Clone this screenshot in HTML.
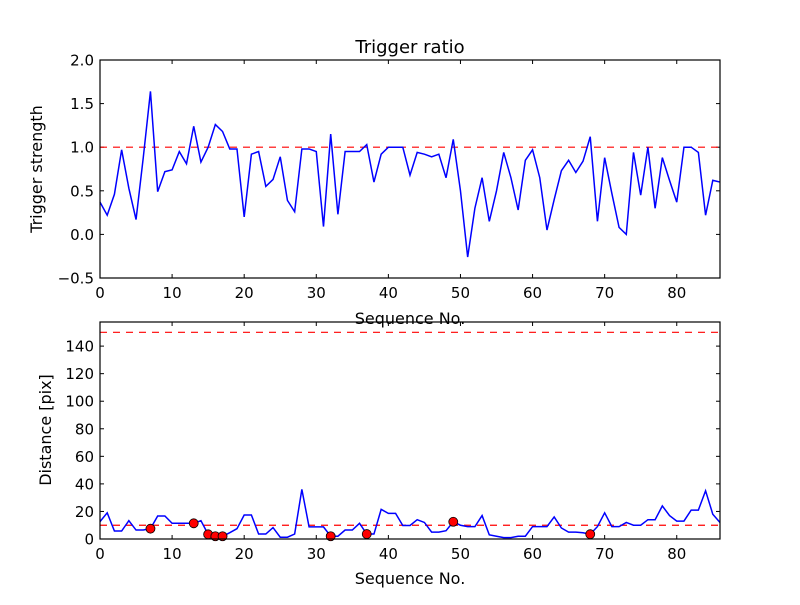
<!DOCTYPE html>
<html><head><meta charset="utf-8"><style>body{margin:0;background:#fff}svg text{font-family:"DejaVu Sans","Liberation Sans",sans-serif}</style></head>
<body>
<svg id="c" width="800" height="600" xmlns="http://www.w3.org/2000/svg"></svg>
<script>
const seq = Array.from({length:87},(_,i)=>i);
const trigger = [0.37,0.22,0.46,0.97,0.53,0.17,0.88,1.64,0.49,0.72,0.74,0.95,0.81,1.24,0.83,1.0,1.26,1.18,0.98,0.98,0.2,0.92,0.95,0.55,0.63,0.89,0.39,0.26,0.98,0.98,0.95,0.09,1.15,0.23,0.95,0.95,0.95,1.03,0.6,0.92,1.0,1.0,1.0,0.68,0.94,0.92,0.89,0.92,0.65,1.09,0.5,-0.26,0.3,0.65,0.15,0.5,0.94,0.65,0.28,0.85,0.97,0.65,0.05,0.4,0.73,0.85,0.71,0.84,1.12,0.15,0.88,0.47,0.08,0.0,0.94,0.45,1.0,0.3,0.88,0.62,0.37,1.0,1.0,0.94,0.22,0.62,0.6];
const distance = [12.6,19,5.8,5.8,13.3,6.5,6.5,7.5,16.7,16.7,11.4,11.4,11.4,11.4,13.3,3.4,2,2,4.6,7.5,17.4,17.4,3.6,3.6,8.3,1.3,1.3,3.6,36,8.8,8.8,8.8,2,2,6.5,6.5,11.4,3.6,3.6,21.5,18.6,18.6,9.8,9.8,14,12,5,5,6,12.5,10,9,9,17,3,2,1,1,2,2,9,9,9,16,8,5,5,4.5,3.5,9,19,9,9,12,10,10,14,14,24,17,13,13,21,21,35,18,12];
const markIdx = [7,13,15,16,17,32,37,49,68];
const xTicks = [0,10,20,30,40,50,60,70,80];
const yTicks1 = [-0.5,0,0.5,1.0,1.5,2.0];
const yTicks2 = [0,20,40,60,80,100,120,140];
const refTop = [1.0];
const refBottom = [10,150];

const svg=document.getElementById('c');const NS='http://www.w3.org/2000/svg';
function el(t,a,p){const e=document.createElementNS(NS,t);for(const k in a)e.setAttribute(k,a[k]);(p||svg).appendChild(e);return e;}
const L=100,R=720,xmax=86;
const X=v=>L+(R-L)*v/xmax;
function panel(top,bot,ymin,ymax,yt,fmt,name){
  const Y=v=>bot-(bot-top)*(v-ymin)/(ymax-ymin);
  const g=el('g',{});
  
  
  xTicks.forEach(t=>{const x=X(t);
    el('line',{x1:x,x2:x,y1:bot,y2:bot-4,stroke:'#000'},g);el('line',{x1:x,x2:x,y1:top,y2:top+4,stroke:'#000'},g);
    const tx=el('text',{x:x,y:bot+20,'text-anchor':'middle','font-size':'15'},g);tx.textContent=t;
    
    });
  yt.forEach(t=>{const y=Y(t);
    el('line',{x1:L,x2:L+4,y1:y,y2:y,stroke:'#000'},g);el('line',{x1:R,x2:R-4,y1:y,y2:y,stroke:'#000'},g);
    const tx=el('text',{x:L-6,y:y+5.5,'text-anchor':'end','font-size':'15'},g);tx.textContent=fmt(t);
    
    });
  return {Y,g};
}
const p1=panel(60,278,-0.5,2.0,yTicks1,t=>t.toFixed(1).replace('-','\u2212'),'trigger');
refTop.forEach(v=>{const l=el('line',{x1:L,x2:R,y1:p1.Y(v),y2:p1.Y(v),stroke:'red','stroke-width':'1.2','stroke-dasharray':'7,6'});
  
  });
const l1=el('polyline',{points:seq.map(i=>X(i)+','+p1.Y(trigger[i])).join(' '),fill:'none',stroke:'blue','stroke-width':'1.5'});


el('rect',{x:L,y:60,width:R-L,height:218,fill:'none',stroke:'#000','stroke-width':'1.2'});
const p2=panel(322,539,0,157.5,yTicks2,t=>String(t),'distance');
refBottom.forEach(v=>{const l=el('line',{x1:L,x2:R,y1:p2.Y(v),y2:p2.Y(v),stroke:'red','stroke-width':'1.2','stroke-dasharray':'7,6'});
  
  });
const l2=el('polyline',{points:seq.map(i=>X(i)+','+p2.Y(distance[i])).join(' '),fill:'none',stroke:'blue','stroke-width':'1.5'});


markIdx.forEach(i=>{const c=el('circle',{cx:X(i),cy:p2.Y(distance[i]),r:4.5,fill:'red',stroke:'#000','stroke-width':'0.8'});
  
  });
el('rect',{x:L,y:322,width:R-L,height:217,fill:'none',stroke:'#000','stroke-width':'1.2'});
function txt(s,a,name){const t=el('text',a);t.textContent=s;
  
  }
txt('Trigger ratio',{x:410,y:53,'text-anchor':'middle','font-size':'18'},'chart-title');
txt('Sequence No.',{x:410,y:324,'text-anchor':'middle','font-size':'16'},'top-x-axis-title');
txt('Sequence No.',{x:410,y:584,'text-anchor':'middle','font-size':'16'},'bottom-x-axis-title');
txt('Trigger strength',{x:0,y:0,'text-anchor':'middle','font-size':'16',transform:'translate(42,169) rotate(-90)'},'top-y-axis-title');
txt('Distance [pix]',{x:0,y:0,'text-anchor':'middle','font-size':'16',transform:'translate(51,430) rotate(-90)'},'bottom-y-axis-title');
</script>
</body></html>
